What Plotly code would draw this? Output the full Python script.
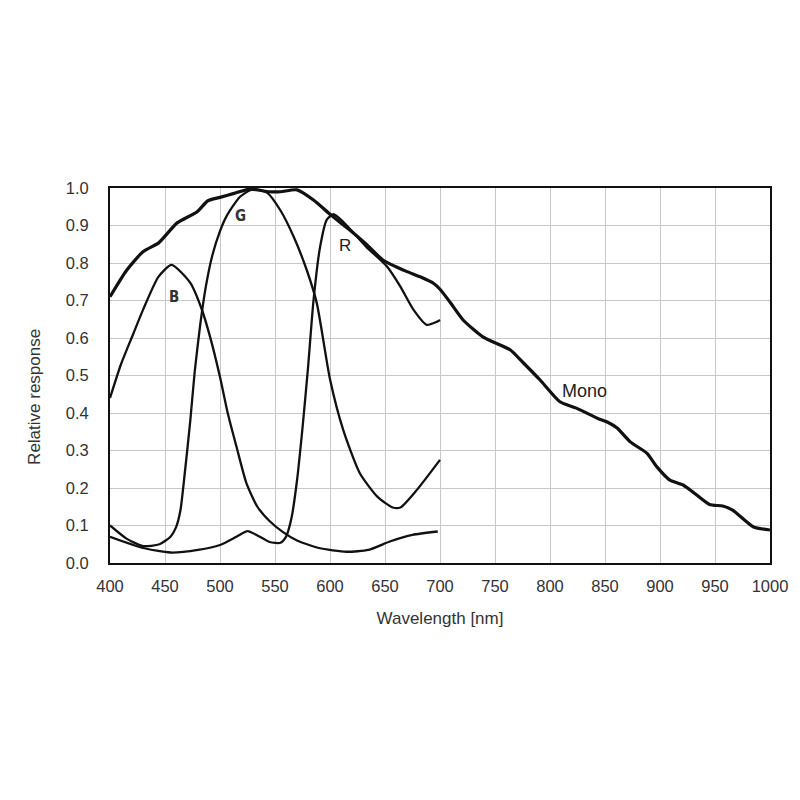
import plotly.graph_objects as go

# Mono (thick)
mono_x = [400, 415, 430, 444, 451, 461, 479, 489, 500, 512, 527, 545, 555, 570, 585, 600, 618, 633, 648, 660, 670, 683, 694, 700, 709, 721, 739, 748, 764, 775, 791, 809, 824, 843, 852, 861, 873, 888, 897, 909, 921, 930, 945, 957, 966, 985, 1000]
mono_y = [0.71, 0.78, 0.83, 0.853, 0.875, 0.907, 0.936, 0.966, 0.975, 0.985, 0.997, 0.99, 0.99, 0.995, 0.968, 0.93, 0.888, 0.85, 0.808, 0.79, 0.777, 0.762, 0.746, 0.73, 0.696, 0.648, 0.603, 0.59, 0.568, 0.536, 0.488, 0.43, 0.413, 0.386, 0.376, 0.36, 0.323, 0.293, 0.257, 0.221, 0.208, 0.189, 0.156, 0.152, 0.141, 0.096, 0.088]

# B channel
b_x = [400, 410, 421, 430, 444, 456, 473, 483, 491, 500, 507, 515, 524, 534, 545, 557, 570, 590, 615, 635, 655, 675, 698]
b_y = [0.44, 0.53, 0.61, 0.675, 0.763, 0.795, 0.747, 0.68, 0.603, 0.496, 0.40, 0.31, 0.213, 0.15, 0.112, 0.083, 0.06, 0.04, 0.03, 0.035, 0.058, 0.075, 0.084]

# G channel
g_x = [400, 415, 430, 445, 455, 460, 464, 468, 473, 477, 482, 487, 493, 500, 506, 518, 530, 543, 555, 567, 579, 588, 600, 612, 627, 643, 657, 664, 679, 700]
g_y = [0.10, 0.065, 0.045, 0.05, 0.07, 0.095, 0.14, 0.24, 0.38, 0.51, 0.635, 0.735, 0.82, 0.885, 0.925, 0.976, 0.997, 0.987, 0.94, 0.87, 0.78, 0.693, 0.49, 0.355, 0.24, 0.177, 0.148, 0.148, 0.195, 0.275]

# R channel
r_x = [400, 430, 455, 480, 500, 515, 525, 535, 545, 555, 560, 565, 570, 575, 580, 585, 591, 597, 603, 612, 633, 652, 664, 676, 688, 697, 700]
r_y = [0.07, 0.04, 0.028, 0.035, 0.048, 0.07, 0.085, 0.072, 0.056, 0.054, 0.07, 0.12, 0.22, 0.36, 0.52, 0.70, 0.843, 0.915, 0.93, 0.91, 0.843, 0.79, 0.737, 0.675, 0.635, 0.643, 0.648]

x_ticks = list(range(400, 1001, 50))
y_ticks = [round(i * 0.1, 1) for i in range(11)]

fig = go.Figure()
line_col = "#111111"
for xs, ys, w in [(b_x, b_y, 2.3), (g_x, g_y, 2.3), (r_x, r_y, 2.3), (mono_x, mono_y, 3.2)]:
    fig.add_trace(go.Scatter(x=xs, y=ys, mode="lines",
                             line=dict(color=line_col, width=w, shape="spline", smoothing=0.6),
                             showlegend=False, hoverinfo="skip"))

fig.add_annotation(x=458, y=0.71, text="<b>B</b>", showarrow=False,
                   font=dict(family="Liberation Sans Narrow, DejaVu Sans Condensed", size=15, color="#333"))
fig.add_annotation(x=519, y=0.925, text="<b>G</b>", showarrow=False,
                   font=dict(family="Liberation Sans Narrow, DejaVu Sans Condensed", size=15, color="#333"))
fig.add_annotation(x=614, y=0.848, text="R", showarrow=False,
                   font=dict(family="Liberation Sans, Arial", size=17, color="#222"))
fig.add_annotation(x=831, y=0.458, text="Mono", showarrow=False,
                   font=dict(family="Liberation Sans, Arial", size=18, color="#222"))

fig.add_annotation(x=-0.1136, y=0.443, xref="paper", yref="paper", yanchor="middle", xanchor="center",
                   text="Relative response", textangle=-90, showarrow=False,
                   font=dict(family="Liberation Sans, Arial", size=17, color="#333"))

fig.update_layout(
    width=800, height=800,
    margin=dict(l=110, r=30, t=188, b=237),
    paper_bgcolor="white", plot_bgcolor="white",
    font=dict(family="Liberation Sans, Arial", size=17, color="#333"),
    xaxis=dict(range=[400, 1000], tickvals=x_ticks, showgrid=True, gridcolor="#c8c8c8", gridwidth=1,
               showline=True, linecolor="#111", linewidth=2, mirror=True, zeroline=False,
               ticks="outside", ticklen=7, tickcolor="rgba(0,0,0,0)", tickfont=dict(size=16.5),
               title=dict(text="Wavelength [nm]", standoff=18, font=dict(size=17, color="#333"))),
    yaxis=dict(range=[0, 1.0], tickvals=y_ticks, tickformat=".1f", showgrid=True, gridcolor="#c8c8c8", gridwidth=1,
               showline=True, linecolor="#111", linewidth=2, mirror=True, zeroline=False,
               ticks="outside", ticklen=16, tickcolor="rgba(0,0,0,0)", tickfont=dict(size=16.5)),
)

fig.write_html("out.html")
